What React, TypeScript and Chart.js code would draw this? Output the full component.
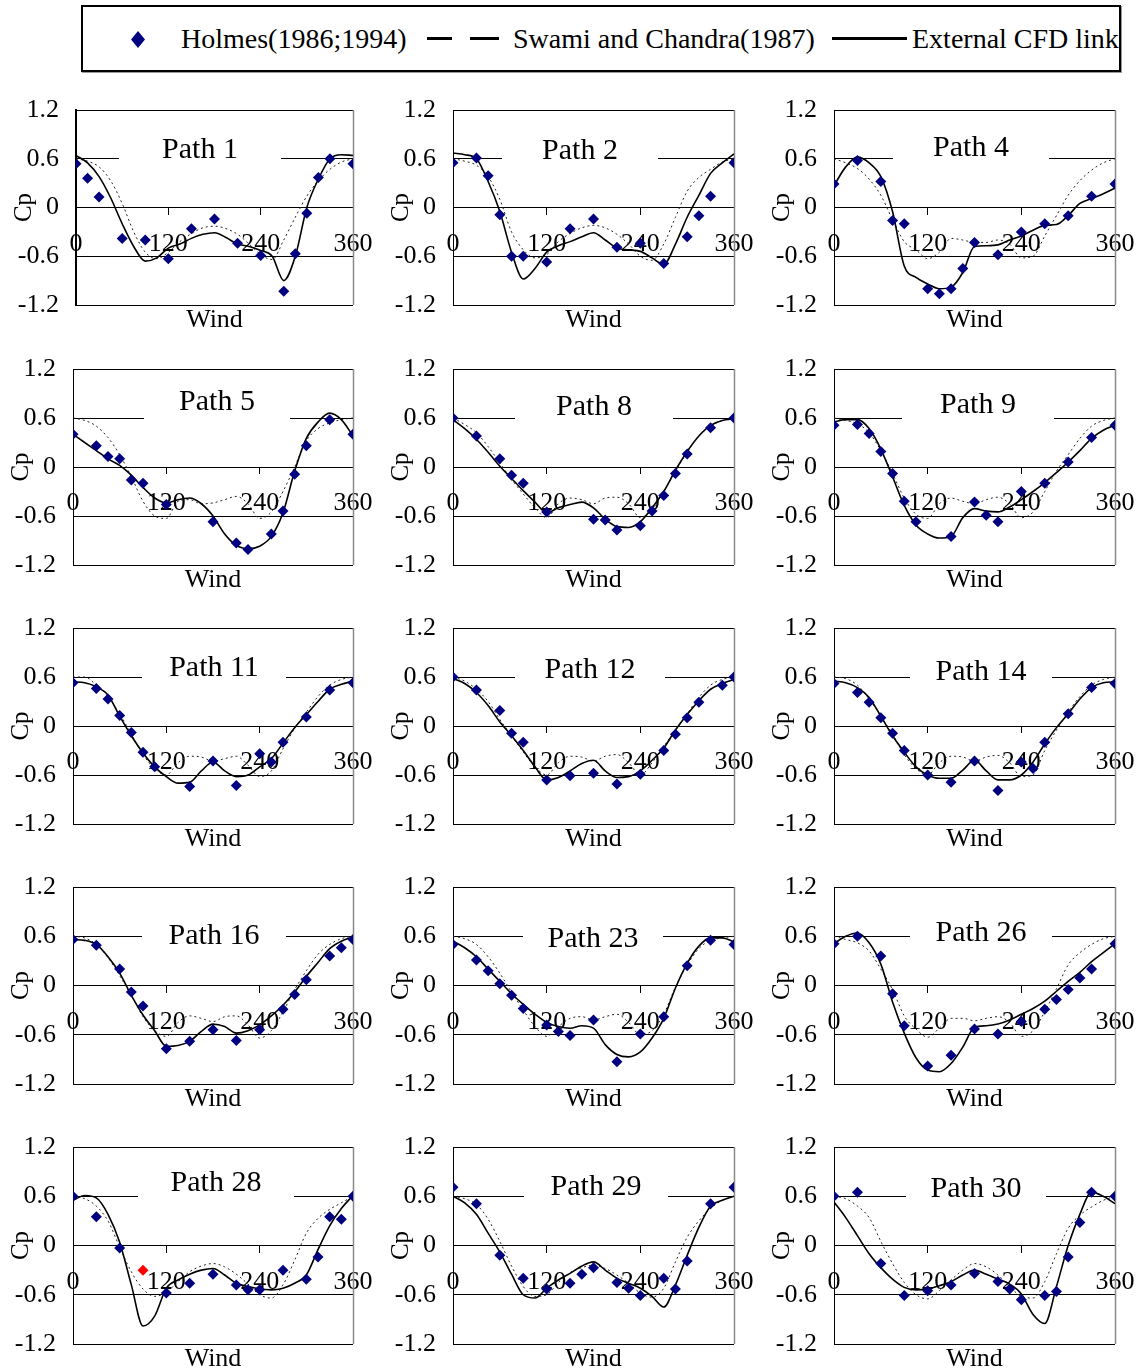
import React, { useEffect, useRef } from "react";
import { Chart, registerables } from "chart.js";

Chart.register(...registerables);

const SERIF = '"Liberation Serif", "Times New Roman", Times, serif';

// ---------- shared axes ----------
const curveAngles = [0, 15, 30, 45, 60, 75, 90, 105, 120, 135, 150, 165, 180, 195, 210, 225, 240, 255, 270, 285, 300, 315, 330, 345, 360];
const xTickValues = [0, 120, 240, 360];
const yTickValues = [-1.2, -0.6, 0, 0.6, 1.2];

// ---------- Path 1 ----------
const path1Angles = [0, 15, 30, 60, 90, 120, 150, 180, 210, 240, 270, 285, 300, 315, 330, 360];
const path1Holmes = [0.54, 0.36, 0.13, -0.38, -0.4, -0.63, -0.26, -0.14, -0.44, -0.59, -1.03, -0.57, -0.07, 0.37, 0.6, 0.54];
const path1Cfd = [0.64, 0.55, 0.38, 0.12, -0.2, -0.48, -0.66, -0.62, -0.5, -0.45, -0.38, -0.33, -0.31, -0.37, -0.45, -0.48, -0.53, -0.6, -0.9, -0.6, 0.0, 0.35, 0.6, 0.65, 0.64];
const path1Swami = [0.6, 0.57, 0.5, 0.33, 0.05, -0.3, -0.55, -0.63, -0.55, -0.42, -0.32, -0.25, -0.23, -0.26, -0.33, -0.45, -0.58, -0.64, -0.4, -0.12, 0.14, 0.33, 0.47, 0.56, 0.6];

// ---------- Path 2 ----------
const path2Angles = [0, 30, 45, 60, 75, 90, 120, 150, 180, 210, 240, 270, 300, 315, 330, 360];
const path2Holmes = [0.55, 0.61, 0.39, -0.09, -0.6, -0.6, -0.67, -0.26, -0.14, -0.49, -0.44, -0.69, -0.36, -0.1, 0.14, 0.55];
const path2Cfd = [0.67, 0.65, 0.6, 0.32, -0.05, -0.55, -0.88, -0.75, -0.55, -0.47, -0.42, -0.36, -0.31, -0.4, -0.5, -0.52, -0.54, -0.62, -0.7, -0.45, -0.12, 0.15, 0.42, 0.55, 0.66];
const path2Swami = [0.6, 0.57, 0.52, 0.38, 0.1, -0.3, -0.52, -0.62, -0.58, -0.42, -0.32, -0.25, -0.22, -0.25, -0.33, -0.45, -0.6, -0.65, -0.45, -0.12, 0.2, 0.37, 0.47, 0.56, 0.6];

// ---------- Path 4 ----------
const path4Angles = [0, 30, 60, 75, 90, 120, 135, 150, 165, 180, 210, 240, 270, 300, 330, 360];
const path4Holmes = [0.29, 0.58, 0.32, -0.16, -0.2, -1.0, -1.06, -1.0, -0.75, -0.43, -0.58, -0.3, -0.2, -0.1, 0.14, 0.29];
const path4Cfd = [0.27, 0.5, 0.62, 0.55, 0.38, -0.05, -0.72, -0.86, -0.94, -1.0, -0.98, -0.8, -0.48, -0.47, -0.46, -0.4, -0.35, -0.28, -0.22, -0.21, -0.1, 0.05, 0.11, 0.17, 0.24];
const path4Swami = [0.6, 0.55, 0.48, 0.35, 0.15, -0.15, -0.42, -0.52, -0.63, -0.55, -0.38, -0.4, -0.43, -0.43, -0.4, -0.45, -0.62, -0.6, -0.35, -0.1, 0.15, 0.33, 0.46, 0.55, 0.6];

// ---------- Path 5 ----------
const path5Angles = [0, 30, 45, 60, 75, 90, 120, 180, 210, 225, 255, 270, 285, 300, 330, 360];
const path5Holmes = [0.4, 0.26, 0.13, 0.1, -0.16, -0.2, -0.46, -0.67, -0.93, -1.01, -0.82, -0.54, -0.09, 0.26, 0.58, 0.4];
const path5Cfd = [0.4, 0.3, 0.2, 0.1, 0.02, -0.1, -0.25, -0.38, -0.44, -0.4, -0.38, -0.45, -0.6, -0.82, -0.96, -1.0, -0.97, -0.85, -0.56, -0.05, 0.35, 0.55, 0.66, 0.58, 0.38];
const path5Swami = [0.6, 0.57, 0.5, 0.36, 0.15, -0.12, -0.42, -0.6, -0.63, -0.42, -0.4, -0.45, -0.44, -0.4, -0.36, -0.45, -0.63, -0.55, -0.3, 0.0, 0.32, 0.47, 0.54, 0.58, 0.6];

// ---------- Path 8 ----------
const path8Angles = [0, 30, 60, 75, 90, 120, 180, 195, 210, 240, 255, 270, 285, 300, 330, 360];
const path8Holmes = [0.6, 0.38, 0.1, -0.1, -0.2, -0.55, -0.64, -0.65, -0.77, -0.72, -0.54, -0.35, -0.08, 0.16, 0.48, 0.6];
const path8Cfd = [0.58, 0.47, 0.34, 0.18, 0.01, -0.14, -0.29, -0.43, -0.56, -0.5, -0.46, -0.43, -0.5, -0.64, -0.73, -0.74, -0.67, -0.5, -0.3, -0.04, 0.19, 0.38, 0.51, 0.57, 0.59];
const path8Swami = [0.6, 0.52, 0.42, 0.25, 0.05, -0.15, -0.33, -0.5, -0.62, -0.45, -0.38, -0.4, -0.45, -0.38, -0.37, -0.45, -0.62, -0.52, -0.3, -0.05, 0.18, 0.38, 0.5, 0.57, 0.6];

// ---------- Path 9 ----------
const path9Angles = [0, 30, 45, 60, 75, 90, 105, 150, 180, 195, 210, 240, 270, 300, 330, 360];
const path9Holmes = [0.51, 0.52, 0.41, 0.19, -0.08, -0.42, -0.67, -0.85, -0.43, -0.59, -0.67, -0.3, -0.2, 0.06, 0.36, 0.51];
const path9Cfd = [0.55, 0.58, 0.58, 0.47, 0.22, -0.12, -0.47, -0.71, -0.82, -0.87, -0.85, -0.62, -0.51, -0.54, -0.55, -0.49, -0.4, -0.3, -0.19, -0.07, 0.06, 0.2, 0.35, 0.45, 0.51];
const path9Swami = [0.6, 0.57, 0.53, 0.42, 0.2, -0.08, -0.38, -0.58, -0.63, -0.45, -0.38, -0.42, -0.45, -0.4, -0.37, -0.45, -0.62, -0.55, -0.3, -0.05, 0.15, 0.35, 0.5, 0.57, 0.6];

// ---------- Path 11 ----------
const path11Angles = [0, 30, 45, 60, 75, 90, 105, 150, 180, 210, 240, 255, 270, 300, 330, 360];
const path11Holmes = [0.53, 0.46, 0.33, 0.13, -0.08, -0.32, -0.5, -0.74, -0.43, -0.73, -0.34, -0.44, -0.2, 0.11, 0.44, 0.53];
const path11Cfd = [0.54, 0.53, 0.48, 0.38, 0.12, -0.12, -0.33, -0.5, -0.62, -0.7, -0.69, -0.55, -0.44, -0.55, -0.62, -0.6, -0.5, -0.4, -0.21, -0.02, 0.14, 0.3, 0.45, 0.51, 0.55];
const path11Swami = [0.6, 0.6, 0.5, 0.36, 0.15, -0.1, -0.35, -0.52, -0.6, -0.45, -0.37, -0.38, -0.43, -0.4, -0.37, -0.48, -0.62, -0.55, -0.28, -0.03, 0.17, 0.36, 0.5, 0.57, 0.6];

// ---------- Path 12 ----------
const path12Angles = [0, 30, 60, 75, 90, 120, 150, 180, 210, 240, 270, 285, 300, 315, 345, 360];
const path12Holmes = [0.6, 0.44, 0.19, -0.09, -0.2, -0.66, -0.61, -0.58, -0.71, -0.59, -0.3, -0.1, 0.1, 0.29, 0.5, 0.6];
const path12Cfd = [0.58, 0.52, 0.41, 0.25, 0.05, -0.12, -0.3, -0.5, -0.66, -0.63, -0.55, -0.46, -0.42, -0.55, -0.63, -0.62, -0.55, -0.42, -0.27, -0.05, 0.14, 0.31, 0.45, 0.52, 0.57];
const path12Swami = [0.6, 0.55, 0.45, 0.3, 0.08, -0.12, -0.32, -0.5, -0.6, -0.45, -0.37, -0.38, -0.43, -0.37, -0.35, -0.45, -0.6, -0.45, -0.25, -0.05, 0.15, 0.35, 0.5, 0.57, 0.6];

// ---------- Path 14 ----------
const path14Angles = [0, 30, 45, 60, 75, 90, 120, 150, 180, 210, 240, 255, 270, 300, 330, 360];
const path14Holmes = [0.52, 0.41, 0.29, 0.1, -0.09, -0.3, -0.6, -0.69, -0.43, -0.79, -0.44, -0.52, -0.2, 0.15, 0.47, 0.52];
const path14Cfd = [0.55, 0.53, 0.47, 0.35, 0.12, -0.12, -0.32, -0.5, -0.6, -0.64, -0.64, -0.54, -0.42, -0.55, -0.66, -0.66, -0.6, -0.44, -0.22, -0.02, 0.15, 0.33, 0.47, 0.53, 0.54];
const path14Swami = [0.6, 0.58, 0.5, 0.33, 0.12, -0.1, -0.35, -0.52, -0.6, -0.45, -0.37, -0.38, -0.43, -0.38, -0.36, -0.45, -0.62, -0.6, -0.3, -0.05, 0.17, 0.36, 0.5, 0.57, 0.6];

// ---------- Path 16 ----------
const path16Angles = [0, 30, 60, 75, 90, 120, 150, 180, 210, 240, 270, 285, 300, 330, 345, 360];
const path16Holmes = [0.56, 0.49, 0.2, -0.08, -0.25, -0.77, -0.68, -0.54, -0.67, -0.54, -0.29, -0.11, 0.07, 0.36, 0.46, 0.56];
const path16Cfd = [0.56, 0.55, 0.5, 0.35, 0.15, -0.12, -0.36, -0.55, -0.74, -0.73, -0.68, -0.56, -0.47, -0.5, -0.58, -0.55, -0.48, -0.37, -0.24, -0.08, 0.11, 0.28, 0.45, 0.54, 0.59];
const path16Swami = [0.6, 0.58, 0.5, 0.34, 0.12, -0.12, -0.38, -0.55, -0.62, -0.45, -0.37, -0.4, -0.44, -0.38, -0.37, -0.48, -0.64, -0.55, -0.32, -0.05, 0.18, 0.38, 0.5, 0.57, 0.6];

// ---------- Path 23 ----------
const path23Angles = [0, 30, 45, 60, 75, 90, 120, 135, 150, 180, 210, 240, 270, 300, 330, 360];
const path23Holmes = [0.5, 0.31, 0.18, 0.02, -0.12, -0.28, -0.48, -0.56, -0.61, -0.42, -0.93, -0.59, -0.38, 0.24, 0.55, 0.5];
const path23Cfd = [0.54, 0.46, 0.35, 0.2, 0.05, -0.1, -0.23, -0.35, -0.45, -0.5, -0.52, -0.49, -0.52, -0.72, -0.84, -0.87, -0.81, -0.64, -0.4, -0.03, 0.27, 0.48, 0.58, 0.58, 0.53];
const path23Swami = [0.6, 0.57, 0.5, 0.35, 0.15, -0.08, -0.3, -0.5, -0.62, -0.5, -0.4, -0.38, -0.42, -0.38, -0.35, -0.45, -0.6, -0.55, -0.35, -0.02, 0.25, 0.45, 0.55, 0.58, 0.6];

// ---------- Path 26 ----------
const path26Angles = [0, 30, 60, 75, 90, 120, 150, 180, 210, 240, 270, 285, 300, 315, 330, 360];
const path26Holmes = [0.51, 0.6, 0.36, -0.1, -0.49, -0.98, -0.85, -0.53, -0.59, -0.44, -0.29, -0.17, -0.05, 0.09, 0.2, 0.51];
const path26Cfd = [0.51, 0.6, 0.64, 0.52, 0.26, -0.2, -0.58, -0.88, -1.03, -1.05, -0.95, -0.75, -0.51, -0.49, -0.47, -0.42, -0.35, -0.28, -0.19, -0.07, 0.05, 0.16, 0.29, 0.4, 0.51];
const path26Swami = [0.6, 0.56, 0.52, 0.42, 0.2, -0.05, -0.37, -0.53, -0.63, -0.52, -0.4, -0.4, -0.43, -0.4, -0.38, -0.45, -0.62, -0.55, -0.32, -0.04, 0.25, 0.4, 0.5, 0.57, 0.6];

// ---------- Path 28 ----------
const path28Angles = [0, 30, 60, 90, 120, 150, 180, 210, 225, 240, 270, 300, 315, 330, 345, 360];
const path28Holmes = [0.6, 0.35, -0.03, -0.3, -0.58, -0.46, -0.35, -0.48, -0.54, -0.54, -0.3, -0.41, -0.14, 0.35, 0.32, 0.6];
const path28Cfd = [0.55, 0.61, 0.58, 0.38, 0.04, -0.48, -0.98, -0.86, -0.52, -0.42, -0.35, -0.3, -0.28, -0.36, -0.46, -0.5, -0.53, -0.54, -0.52, -0.46, -0.36, -0.05, 0.24, 0.45, 0.61];
const path28Swami = [0.6, 0.57, 0.48, 0.3, -0.02, -0.32, -0.53, -0.62, -0.57, -0.44, -0.32, -0.25, -0.22, -0.26, -0.35, -0.47, -0.6, -0.64, -0.48, -0.18, 0.15, 0.33, 0.44, 0.52, 0.6];

// ---------- Path 29 ----------
const path29Angles = [0, 30, 60, 90, 120, 150, 165, 180, 210, 225, 240, 270, 285, 300, 330, 360];
const path29Holmes = [0.71, 0.51, -0.12, -0.4, -0.53, -0.46, -0.35, -0.27, -0.45, -0.52, -0.61, -0.4, -0.53, -0.19, 0.51, 0.71];
const path29Cfd = [0.6, 0.52, 0.38, 0.15, -0.08, -0.35, -0.6, -0.64, -0.52, -0.42, -0.34, -0.25, -0.2, -0.3, -0.4, -0.46, -0.52, -0.62, -0.75, -0.48, -0.12, 0.22, 0.48, 0.55, 0.6];
const path29Swami = [0.6, 0.57, 0.5, 0.32, 0.05, -0.25, -0.5, -0.62, -0.6, -0.45, -0.33, -0.27, -0.24, -0.28, -0.36, -0.46, -0.58, -0.63, -0.52, -0.2, 0.1, 0.3, 0.45, 0.55, 0.6];

// ---------- Path 30 ----------
const path30Angles = [0, 30, 60, 90, 120, 150, 180, 210, 225, 240, 270, 285, 300, 315, 330, 360];
const path30Holmes = [0.6, 0.65, -0.22, -0.61, -0.55, -0.48, -0.34, -0.44, -0.53, -0.66, -0.61, -0.56, -0.14, 0.28, 0.65, 0.6];
const path30Cfd = [0.53, 0.34, 0.12, -0.1, -0.27, -0.41, -0.51, -0.54, -0.53, -0.49, -0.44, -0.36, -0.3, -0.35, -0.41, -0.47, -0.59, -0.84, -0.95, -0.5, 0.0, 0.38, 0.65, 0.6, 0.51];
const path30Swami = [0.6, 0.57, 0.48, 0.34, 0.05, -0.22, -0.45, -0.6, -0.65, -0.55, -0.42, -0.3, -0.22, -0.26, -0.36, -0.5, -0.62, -0.64, -0.44, -0.1, 0.21, 0.37, 0.47, 0.55, 0.6];

interface PanelData {
  title: string;
  angles: number[];
  holmes: number[];
  cfd: number[];
  swami: number[];
  redIndex?: number;
}

const panels: PanelData[] = [
  { title: "Path 1", angles: path1Angles, holmes: path1Holmes, cfd: path1Cfd, swami: path1Swami },
  { title: "Path 2", angles: path2Angles, holmes: path2Holmes, cfd: path2Cfd, swami: path2Swami },
  { title: "Path 4", angles: path4Angles, holmes: path4Holmes, cfd: path4Cfd, swami: path4Swami },
  { title: "Path 5", angles: path5Angles, holmes: path5Holmes, cfd: path5Cfd, swami: path5Swami },
  { title: "Path 8", angles: path8Angles, holmes: path8Holmes, cfd: path8Cfd, swami: path8Swami },
  { title: "Path 9", angles: path9Angles, holmes: path9Holmes, cfd: path9Cfd, swami: path9Swami },
  { title: "Path 11", angles: path11Angles, holmes: path11Holmes, cfd: path11Cfd, swami: path11Swami },
  { title: "Path 12", angles: path12Angles, holmes: path12Holmes, cfd: path12Cfd, swami: path12Swami },
  { title: "Path 14", angles: path14Angles, holmes: path14Holmes, cfd: path14Cfd, swami: path14Swami },
  { title: "Path 16", angles: path16Angles, holmes: path16Holmes, cfd: path16Cfd, swami: path16Swami },
  { title: "Path 23", angles: path23Angles, holmes: path23Holmes, cfd: path23Cfd, swami: path23Swami },
  { title: "Path 26", angles: path26Angles, holmes: path26Holmes, cfd: path26Cfd, swami: path26Swami },
  { title: "Path 28", angles: path28Angles, holmes: path28Holmes, cfd: path28Cfd, swami: path28Swami, redIndex: 3 },
  { title: "Path 29", angles: path29Angles, holmes: path29Holmes, cfd: path29Cfd, swami: path29Swami },
  { title: "Path 30", angles: path30Angles, holmes: path30Holmes, cfd: path30Cfd, swami: path30Swami },
];

// ---------- layout (page pixels) ----------
const colPlotLeft = [73, 453, 834];
const colPlotRight = [353, 734, 1115];
const rowPlotTop = [110, 369, 628, 887, 1147];
const rowPlotBottom = [305, 565, 824, 1084, 1344];
// [centre x, centre y, half width of the white box]
const titleBoxes = [
  [200, 150, 81], [580, 151, 78], [971, 148, 78],
  [217, 402, 73], [594, 407, 79], [978, 405, 76],
  [214, 668, 72], [590, 670, 75], [981, 672, 71],
  [214, 936, 72], [593, 939, 70], [981, 933, 71],
  [216, 1183, 78], [596, 1187, 72], [976, 1189, 70],
];

const Y_AXIS_W = 72;
const TOP_PAD = 20;

const zeroPadding = (s: any) => {
  s.paddingTop = 0;
  s.paddingBottom = 0;
  s.paddingLeft = 0;
  s.paddingRight = 0;
};

function ChartPanel({ data, index }: { data: PanelData; index: number }) {
  const ref = useRef<HTMLCanvasElement>(null);
  const row = Math.floor(index / 3);
  const col = index % 3;
  const plotLeft = index === 0 ? 76 : colPlotLeft[col];
  const plotRight = colPlotRight[col];
  const plotTop = rowPlotTop[row];
  const plotBottom = rowPlotBottom[row];
  const rightPad = col === 2 ? 23 : 24;
  const bottomPad = row === 4 ? 27 : 44;
  const cLeft = plotLeft - Y_AXIS_W;
  const cTop = plotTop - TOP_PAD;
  const width = plotRight - cLeft + rightPad;
  const height = plotBottom - cTop + bottomPad;
  const [tx, ty, th] = titleBoxes[index];
  const axisWidth = index === 0 ? 2 : 1;

  useEffect(() => {
    if (!ref.current) return;
    const pointColors = data.holmes.map((_, i) => (i === data.redIndex ? "#ff0000" : "#000080"));
    const decor = {
      id: "panelDecor",
      beforeDatasetsDraw(chart: any) {
        const { ctx, chartArea: a } = chart;
        ctx.save();
        // right border
        ctx.strokeStyle = "#8a8a8a";
        ctx.lineWidth = 1.5;
        ctx.beginPath();
        ctx.moveTo(Math.round(a.right) + 0.5, a.top);
        ctx.lineTo(Math.round(a.right) + 0.5, a.bottom);
        ctx.stroke();
        // title box
        const cx = tx - cLeft;
        const cy = ty - cTop;
        ctx.fillStyle = "#ffffff";
        ctx.fillRect(cx - th, cy - 17, th * 2, 34);
        ctx.fillStyle = "#000";
        ctx.font = `30px ${SERIF}`;
        ctx.textAlign = "center";
        ctx.textBaseline = "middle";
        ctx.fillText(data.title, cx, cy);
        // x axis name
        ctx.font = `26px ${SERIF}`;
        ctx.fillText("Wind", (a.left + a.right) / 2, a.bottom + 15);
        ctx.restore();
      },
    };

    const chart = new Chart(ref.current, {
      type: "scatter",
      data: {
        datasets: [
          {
            label: "Holmes(1986;1994)",
            data: data.angles.map((a, i) => ({ x: a, y: data.holmes[i] })),
            showLine: false,
            pointStyle: "rectRot",
            pointRadius: 5.5,
            pointHoverRadius: 5.5,
            pointBackgroundColor: pointColors,
            pointBorderColor: pointColors,
            pointBorderWidth: 0,
          },
          {
            label: "External CFD link",
            data: curveAngles.map((a, i) => ({ x: a, y: data.cfd[i] })),
            showLine: true,
            pointRadius: 0,
            borderColor: "#000",
            borderWidth: 1.6,
            cubicInterpolationMode: "monotone",
            fill: false,
          },
          {
            label: "Swami and Chandra(1987)",
            data: curveAngles.map((a, i) => ({ x: a, y: data.swami[i] })),
            showLine: true,
            pointRadius: 0,
            borderColor: "#222",
            borderWidth: 1,
            borderDash: [2, 3],
            cubicInterpolationMode: "monotone",
            fill: false,
          },
        ],
      } as any,
      options: {
        animation: false,
        responsive: false,
        maintainAspectRatio: false,
        devicePixelRatio: 1,
        events: [],
        layout: { padding: { left: 0, top: TOP_PAD, right: rightPad, bottom: bottomPad } },
        plugins: {
          legend: { display: false },
          tooltip: { enabled: false },
          title: { display: false },
        },
        scales: {
          x: {
            type: "linear",
            position: { y: 0 } as any,
            min: 0,
            max: 360,
            afterBuildTicks: (s: any) => {
              s.ticks = xTickValues.map((v) => ({ value: v }));
            },
            afterFit: zeroPadding,
            grid: { drawOnChartArea: false, drawTicks: true, tickLength: 7, color: "#000", lineWidth: 1 },
            border: { display: false },
            ticks: {
              font: { family: SERIF, size: 26 },
              color: "#000",
              padding: 14,
              maxRotation: 0,
              autoSkip: false,
              callback: (v: any) => String(v),
            },
          },
          y: {
            type: "linear",
            position: "left",
            min: -1.2,
            max: 1.2,
            afterBuildTicks: (s: any) => {
              s.ticks = yTickValues.map((v) => ({ value: v }));
            },
            afterFit: (s: any) => {
              s.width = Y_AXIS_W;
              zeroPadding(s);
            },
            grid: { color: "#000", lineWidth: 1, drawTicks: false },
            border: { color: "#000", width: axisWidth },
            ticks: {
              font: { family: SERIF, size: 26 },
              color: "#000",
              padding: 17,
              autoSkip: false,
              callback: (v: any) => String(v),
            },
            title: {
              display: true,
              text: "Cp",
              font: { family: SERIF, size: 25 },
              color: "#000",
              padding: { top: 5, bottom: 0 },
            },
          },
        },
      } as any,
      plugins: [decor],
    });
    return () => chart.destroy();
  }, []);

  return (
    <canvas
      ref={ref}
      width={width}
      height={height}
      style={{ position: "absolute", left: cLeft, top: cTop, width, height }}
    />
  );
}

function Legend() {
  const text: React.CSSProperties = {
    position: "absolute",
    top: 14,
    lineHeight: "36px",
    fontSize: 28,
    fontFamily: SERIF,
    color: "#000",
    whiteSpace: "nowrap",
  };
  const bar: React.CSSProperties = { position: "absolute", top: 30, height: 3, background: "#000" };
  return (
    <div
      style={{
        position: "absolute",
        left: 81,
        top: 5,
        width: 1040,
        height: 67,
        boxSizing: "border-box",
        border: "2px solid #000",
        background: "#fff",
        overflow: "hidden",
        boxShadow: "1px 1px 0 #9a9a9a",
      }}
    >
      <div
        style={{
          position: "absolute",
          left: 48,
          top: 24,
          width: 14,
          height: 17,
          background: "#000080",
          clipPath: "polygon(50% 0, 100% 50%, 50% 100%, 0 50%)",
        }}
      />
      <span style={{ ...text, left: 98 }}>Holmes(1986;1994)</span>
      <div style={{ ...bar, left: 344, width: 25 }} />
      <div style={{ ...bar, left: 387, width: 29 }} />
      <span style={{ ...text, left: 430 }}>Swami and Chandra(1987)</span>
      <div style={{ ...bar, left: 749, width: 75 }} />
      <span style={{ ...text, left: 829 }}>External CFD link</span>
    </div>
  );
}

export default function App() {
  return (
    <div
      style={{
        position: "absolute",
        left: 0,
        top: 0,
        width: 1138,
        height: 1371,
        overflow: "hidden",
        background: "#fff",
      }}
    >
      <Legend />
      {panels.map((p, i) => (
        <ChartPanel key={p.title} data={p} index={i} />
      ))}
    </div>
  );
}
